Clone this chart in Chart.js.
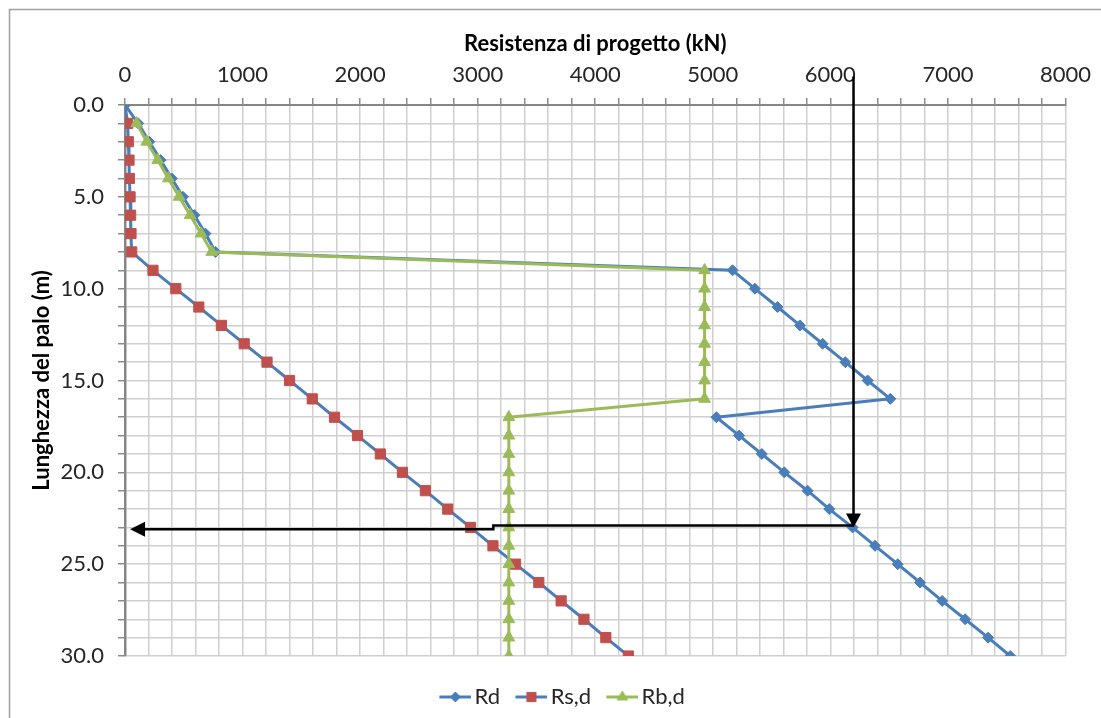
<!DOCTYPE html>
<html><head><meta charset="utf-8">
<script src="https://cdn.jsdelivr.net/npm/chart.js@4/dist/chart.umd.min.js"></script>
<style>html,body{margin:0;padding:0;background:#fff;overflow:hidden;} canvas{display:block;}</style>
</head><body>
<canvas id="c" width="1101" height="718"></canvas>
<script>
// ---- data ----
const depths = [0,1,2,3,4,5,6,7,8,9,10,11,12,13,14,15,16,17,18,19,20,21,22,23,24,25,26,27,28,29,30];
const Rd  = [0,112,207,303,398,493,590,684,770,5168,5358,5551,5741,5934,6127,6317,6510,5031,5224,5417,5608,5806,5991,6189,6380,6573,6763,6951,7147,7342,7530];
const Rs  = [0,23,28,34,37,43,48,51,57,238,432,628,820,1014,1208,1400,1593,1782,1978,2172,2360,2555,2745,2939,3130,3322,3520,3710,3904,4090,4282];
const Rb  = [null,99,185,278,369,460,554,647,738,4930,4930,4930,4930,4930,4930,4930,4930,3265,3265,3265,3265,3265,3265,3265,3265,3265,3265,3265,3265,3265,3265];
const seriesNames = ['Rd','Rs,d','Rb,d'];
const xTickLabels = [0,1000,2000,3000,4000,5000,6000,7000,8000];
const yTickLabels = [0,5,10,15,20,25,30];
const xTitle = 'Resistenza di progetto (kN)';
const yTitle = 'Lunghezza del palo (m)';
// arrow annotation (data units)
const arrowDownX = 6197, arrowStartDepth = -1.55, arrowDownDepth = 23.0;
const hRightDepth = 22.9, hLeftDepth = 23.1, hStepX = 3133, hTipX = 43;

const FONT = 'Lato';
const FS = 22;
const BLUE = '#4A7EBB', RED = '#C0504D', GREEN = '#9BBB59';
const TXT = '#262626';

function pts(vals){ const out=[]; depths.forEach((d,i)=>{ if(vals[i]!==null) out.push({x:vals[i], y:d}); }); return out; }

// legend sample: line + marker, shifted right inside a wider transparent canvas
function legendImg(lineColor, style, markColor, r){
  const c = document.createElement('canvas'); c.width = 45; c.height = 16;
  const g = c.getContext('2d');
  g.strokeStyle = lineColor; g.lineWidth = 3; g.beginPath(); g.moveTo(13,8); g.lineTo(45,8); g.stroke();
  g.fillStyle = markColor; g.strokeStyle = markColor; g.lineWidth = 1;
  Chart.helpers.drawPoint(g, {pointStyle: style, radius: r, borderWidth: 1, rotation: 0}, 29, 8);
  return c;
}

const borderPlugin = {
  id: 'outerBorder',
  beforeDraw(chart){
    const ctx = chart.ctx; ctx.save();
    ctx.strokeStyle = '#a0a0a0'; ctx.lineWidth = 1.5;
    ctx.beginPath(); ctx.moveTo(9.5, 718); ctx.lineTo(9.5, 9.5); ctx.lineTo(1101, 9.5); ctx.stroke();
    ctx.restore();
  }
};

const legendShiftPlugin = {
  id: 'legendShift',
  afterLayout(chart){ const l = chart.legend; if (l) { l.left += 5; l.right += 5; } }
};

const arrowPlugin = {
  id: 'arrows',
  afterDatasetsDraw(chart){
    const {ctx, scales:{x, y}} = chart;
    ctx.save();
    ctx.strokeStyle = '#000'; ctx.fillStyle = '#000'; ctx.lineWidth = 2.5; ctx.lineJoin = 'miter';
    const vx = x.getPixelForValue(arrowDownX);
    const vTop = y.getPixelForValue(arrowStartDepth);
    const vTip = y.getPixelForValue(arrowDownDepth);
    ctx.beginPath(); ctx.moveTo(vx, vTop); ctx.lineTo(vx, vTip - 10); ctx.stroke();
    ctx.beginPath(); ctx.moveTo(vx, vTip); ctx.lineTo(vx - 7.5, vTip - 14); ctx.lineTo(vx + 7.5, vTip - 14); ctx.closePath(); ctx.fill();
    const yR = y.getPixelForValue(hRightDepth), yL = y.getPixelForValue(hLeftDepth);
    const sx = x.getPixelForValue(hStepX), tx = x.getPixelForValue(hTipX);
    ctx.beginPath(); ctx.moveTo(vx, yR); ctx.lineTo(sx, yR); ctx.lineTo(sx, yL); ctx.lineTo(tx + 10, yL); ctx.stroke();
    ctx.beginPath(); ctx.moveTo(tx, yL); ctx.lineTo(tx + 15, yL - 7.5); ctx.lineTo(tx + 15, yL + 7.5); ctx.closePath(); ctx.fill();
    ctx.restore();
  }
};

const legendImgs = [legendImg(BLUE,'rectRot',BLUE,5), legendImg(BLUE,'rect',RED,6.5), legendImg(GREEN,'triangle',GREEN,6)];

new Chart(document.getElementById('c'), {
  type: 'scatter',
  data: {
    datasets: [
      {label: seriesNames[0], data: pts(Rd), showLine: true, borderColor: BLUE, backgroundColor: BLUE, borderWidth: 3,
       pointStyle: 'rectRot', pointRadius: 5.5, pointBorderWidth: 1, pointBackgroundColor: BLUE, pointBorderColor: BLUE, order: 2},
      {label: seriesNames[1], data: pts(Rs), showLine: true, borderColor: BLUE, backgroundColor: RED, borderWidth: 3,
       pointStyle: 'rect', pointRadius: (c) => c.dataIndex === 0 ? 0 : 7.2, pointBorderWidth: 1, pointBackgroundColor: RED, pointBorderColor: RED, order: 1},
      {label: seriesNames[2], data: pts(Rb), showLine: true, borderColor: GREEN, backgroundColor: GREEN, borderWidth: 3,
       pointStyle: 'triangle', pointRadius: 6.8, pointBorderWidth: 1, pointBackgroundColor: GREEN, pointBorderColor: GREEN, order: 0}
    ]
  },
  options: {
    responsive: false, animation: false, devicePixelRatio: 1,
    layout: {padding: {top: 27, left: 25, right: 17, bottom: 0}},
    elements: {line: {tension: 0, borderJoinStyle: 'round'}},
    plugins: {
      tooltip: {enabled: false},
      legend: {
        position: 'bottom',
        title: {display: true, text: '', font: {size: 10, lineHeight: 2}, padding: 0},
        labels: {
          usePointStyle: true, pointStyleWidth: 29.5, padding: 10, color: TXT,
          font: {family: FONT, size: FS},
          generateLabels: (chart) => chart.data.datasets.map((ds, i) => ({
            text: ds.label, pointStyle: legendImgs[i], datasetIndex: i, hidden: false,
            fillStyle: 'transparent', strokeStyle: 'transparent', lineWidth: 0, fontColor: TXT
          }))
        }
      }
    },
    scales: {
      x: {
        type: 'linear', position: 'top', min: 0, max: 8000,
        afterFit: (s) => { s.height = 78; },
        title: {display: true, text: xTitle, color: '#000', font: {family: FONT, size: FS, weight: 'bold'}, padding: {top: 4, bottom: 4}},
        ticks: {stepSize: 200, autoSkip: false, maxRotation: 0, minRotation: 0, padding: 10, color: TXT,
                font: {family: FONT, size: FS},
                callback: (v) => xTickLabels.includes(v) ? String(v) : ''},
        grid: {color: '#cfcfcf', lineWidth: 1.5, tickLength: 7, tickColor: '#8c8c8c', tickWidth: 1.5},
        border: {display: true, color: '#868686', width: 2}
      },
      y: {
        type: 'linear', reverse: true, min: 0, max: 30,
        afterFit: (s) => { s.width = 100; },
        title: {display: true, text: yTitle, color: '#000', font: {family: FONT, size: FS, weight: 'bold'}, padding: {top: 4, bottom: 4}},
        ticks: {stepSize: 1, autoSkip: false, padding: 14, color: TXT,
                font: {family: FONT, size: FS},
                callback: (v) => yTickLabels.includes(v) ? v.toFixed(1) : ''},
        grid: {color: '#cfcfcf', lineWidth: 1.5, tickLength: 7, tickColor: '#8c8c8c', tickWidth: 1.5},
        border: {display: true, color: '#868686', width: 2.5}
      }
    }
  },
  plugins: [borderPlugin, legendShiftPlugin, arrowPlugin]
});
</script>
</body></html>
